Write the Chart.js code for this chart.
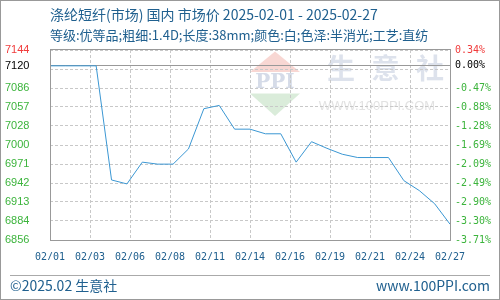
<!DOCTYPE html>
<html>
<head>
<meta charset="utf-8">
<script src="https://cdn.jsdelivr.net/npm/chart.js@4.4.1/dist/chart.umd.min.js"></script>
<style>
  html, body { margin: 0; padding: 0; background: #fff; }
  #wrap { position: relative; width: 500px; height: 300px; overflow: hidden;
          font-family: "Noto Sans CJK SC", sans-serif; color: #20608f; }
  #wrap canvas { position: absolute; left: 0; top: 0; }
  .frame { position: absolute; left: 0; top: 0; width: 500px; height: 300px;
           box-sizing: border-box; border: 1px solid #999; pointer-events: none; }
  .t1 { position: absolute; left: 50px; top: 6px; font-size: 14px; line-height: 16px; white-space: nowrap; }
  .t2 { position: absolute; left: 50px; top: 27px; font-size: 13px; line-height: 16px; white-space: nowrap; }
  .sep { position: absolute; left: 10px; top: 275px; width: 480px; height: 1px; background: #aaa; }
  .f1 { position: absolute; left: 10px; top: 277px; font-size: 14px; line-height: 16px; white-space: nowrap; }
  .f2 { position: absolute; right: 10px; top: 277px; font-size: 14px; line-height: 16px; white-space: nowrap; }
</style>
</head>
<body>
<div id="wrap">
  <canvas id="c" width="500" height="300"></canvas>
  <div class="t1">涤纶短纤(市场) 国内 市场价 2025-02-01 - 2025-02-27</div>
  <div class="t2">等级:优等品;粗细:1.4D;长度:38mm;颜色:白;色泽:半消光;工艺:直纺</div>
  <div class="sep"></div>
  <div class="f1">©2025.02 生意社</div>
  <div class="f2">www.100PPI.com</div>
  <div class="frame"></div>
</div>
<script>
'use strict';

// 日付（02/01〜02/27）と価格
const dates = ['02/01', '02/02', '02/03', '02/04', '02/05', '02/06', '02/07', '02/08', '02/09',
  '02/10', '02/11', '02/12', '02/13', '02/14', '02/15', '02/16', '02/17', '02/18', '02/19',
  '02/20', '02/21', '02/22', '02/23', '02/24', '02/25', '02/26', '02/27'];
const prices = [7120, 7120, 7120, 7120, 6947, 6941, 6974, 6971, 6971,
  6994, 7055, 7060, 7024, 7024, 7017, 7017, 6974, 7005, 6995,
  6986, 6981, 6981, 6981, 6946, 6931, 6911, 6880];

const baseValue = 7120;   // 0.00% の基準線
const yMin = 6856;
const yMax = 7144;

// 目盛り（空ラベルは線だけ）
const xTickLabels = ['02/01', '02/03', '02/06', '02/08', '02/11', '02/14', '02/16', '02/19', '02/21', '02/24', '02/27'];
const yTickValues = [7144, 7120, 7115.2, 7086.4, 7057.6, 7028.8, 7000, 6971.2, 6942.4, 6913.6, 6884.8, 6856];
const yTickLabels = ['7144', '7120', '', '7086', '7057', '7028', '7000', '6971', '6942', '6913', '6884', '6856'];
const pctTickLabels = ['0.34%', '0.00%', '', '-0.47%', '-0.88%', '-1.28%', '-1.69%', '-2.09%', '-2.49%', '-2.90%', '-3.30%', '-3.71%'];

const LINE_BLUE = '#3b97d3';
const GRID = '#c8c8c8';
const FRAME = '#999999';
const AXIS_BLUE = '#20608f';
const UP_RED = '#f03c3c';
const DOWN_GREEN = '#3cb43c';

function tickColor(ctx) {
  if (ctx.index === 0) return UP_RED;
  if (ctx.index === 1) return '#000000';
  return DOWN_GREEN;
}

/* 透かし（ロゴと社名）: グリッドより下に描く */
const watermark = {
  id: 'watermark',
  beforeDraw(chart) {
    const { ctx, chartArea: a } = chart;
    const cx = a.left + 225;
    ctx.save();
    ctx.fillStyle = 'rgba(235,140,130,0.35)';
    ctx.beginPath();
    ctx.moveTo(cx, a.top + 1.5);
    ctx.lineTo(cx - 25, a.top + 22);
    ctx.lineTo(cx + 25, a.top + 22);
    ctx.closePath();
    ctx.fill();
    ctx.fillStyle = 'rgba(150,200,150,0.35)';
    ctx.beginPath();
    ctx.moveTo(cx - 25, a.top + 43.5);
    ctx.lineTo(cx + 25, a.top + 43.5);
    ctx.lineTo(cx, a.top + 66);
    ctx.closePath();
    ctx.fill();
    ctx.fillStyle = '#d5dbe8';
    ctx.textAlign = 'center';
    ctx.textBaseline = 'middle';
    ctx.font = 'bold 20px "DejaVu Serif"';
    ctx.fillText('PPI', cx, a.top + 33);
    ctx.font = 'bold 28px "Noto Sans CJK SC"';
    ctx.fillStyle = '#dde2ec';
    ['生', '意', '社'].forEach((ch, i) => ctx.fillText(ch, a.left + 291 + i * 44.5, a.top + 18));
    ctx.font = '13px "Liberation Sans"';
    ctx.fillStyle = '#e2e2e2';
    ctx.fillText('WWW.100PPI.COM', a.left + 327, a.top + 56);
    ctx.restore();
  },
};

/* プロット枠 */
const plotFrame = {
  id: 'plotFrame',
  afterDatasetsDraw(chart) {
    const { ctx, chartArea: a } = chart;
    ctx.save();
    ctx.strokeStyle = FRAME;
    ctx.lineWidth = 1;
    ctx.strokeRect(a.left + 0.5, a.top - 0.5, a.right - a.left, a.bottom - a.top + 1);
    ctx.restore();
  },
};

const xStep = (dates.length - 1) / (xTickLabels.length - 1);

new Chart(document.getElementById('c'), {
  type: 'line',
  data: {
    datasets: [{
      data: prices.map((v, i) => ({ x: i, y: v })),
      borderColor: LINE_BLUE,
      borderWidth: 1,
      pointRadius: 0,
      tension: 0,
      fill: false,
    }],
  },
  options: {
    responsive: false,
    animation: false,
    events: [],
    layout: { padding: { top: 50, left: 5, right: 0, bottom: 40 } },
    plugins: { legend: { display: false }, tooltip: { enabled: false } },
    scales: {
      x: {
        type: 'linear',
        min: 0,
        max: dates.length - 1,
        afterBuildTicks: (s) => { s.ticks = xTickLabels.map((_, i) => ({ value: i * xStep })); },
        afterFit: (s) => { s.height = 20; },
        ticks: {
          callback: (v, i) => xTickLabels[i],
          autoSkip: false,
          maxRotation: 0,
          padding: 11,
          color: AXIS_BLUE,
          font: { family: '"DejaVu Sans Mono"', size: 10 },
        },
        grid: { color: GRID, drawTicks: false },
        border: { display: false, dash: [3, 2] },
      },
      y: {
        min: yMin,
        max: yMax,
        afterBuildTicks: (s) => { s.ticks = yTickValues.map((v) => ({ value: v })); },
        afterFit: (s) => { s.width = 45; },
        ticks: {
          callback: (v, i) => yTickLabels[i],
          autoSkip: false,
          crossAlign: 'far',
          padding: 0,
          color: tickColor,
          font: { family: '"Liberation Sans"', size: 11 },
        },
        grid: {
          color: (ctx) => (ctx.tick && ctx.tick.value === baseValue ? FRAME : GRID),
          drawTicks: false,
        },
        border: {
          display: false,
          dash: (ctx) => (ctx.tick && ctx.tick.value === baseValue ? [] : [3, 2]),
        },
      },
      y2: {
        position: 'right',
        display: true,
        min: yMin,
        max: yMax,
        afterBuildTicks: (s) => { s.ticks = yTickValues.map((v) => ({ value: v })); },
        afterFit: (s) => { s.width = 50; },
        ticks: {
          callback: (v, i) => pctTickLabels[i],
          autoSkip: false,
          padding: 5,
          color: tickColor,
          font: { family: '"DejaVu Sans Mono"', size: 10 },
        },
        grid: { display: false, drawTicks: false },
        border: { display: false },
      },
    },
  },
  plugins: [watermark, plotFrame],
});
</script>
</body>
</html>
